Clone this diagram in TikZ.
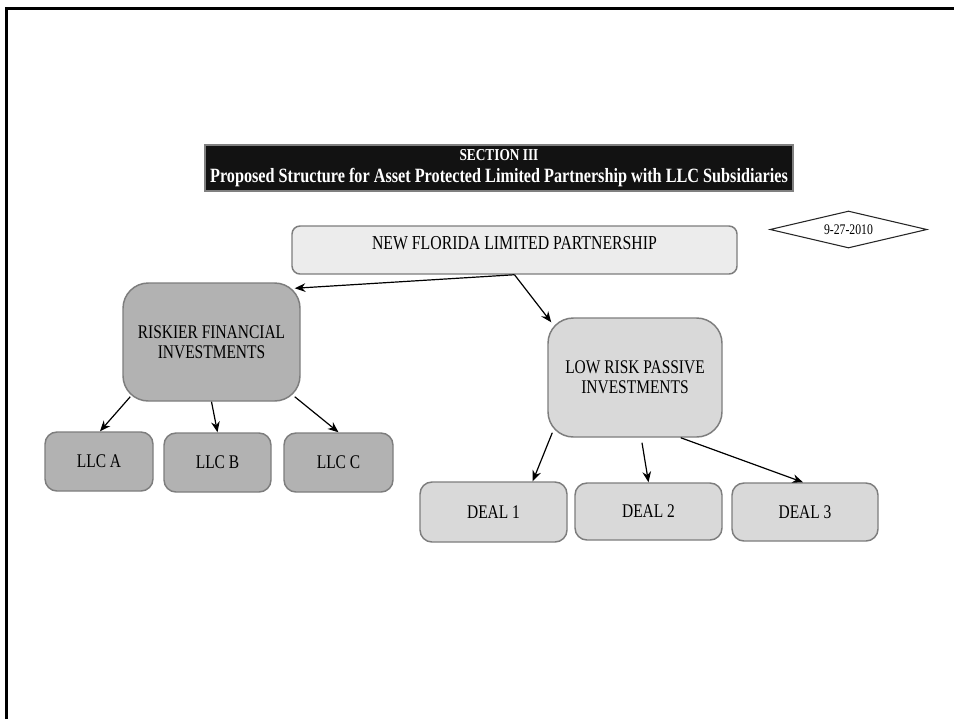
\documentclass[tikz,border=0pt]{standalone}
\usepackage{fontspec}
\setmainfont[FakeStretch=0.8]{Liberation Serif}
\usetikzlibrary{shapes.geometric,arrows.meta,calc}
\definecolor{riskGray}{RGB}{178,178,178}
\definecolor{passiveGray}{RGB}{217,217,217}
\definecolor{paleGray}{RGB}{236,236,236}
\definecolor{rimGray}{RGB}{125,125,125}

\begin{document}
\begin{tikzpicture}[x=0.75pt,y=-0.75pt,
  box/.style={rectangle,draw=rimGray,line width=1.1pt,inner sep=0pt,align=center,
              font=\fontsize{14.5}{15}\selectfont},
  risky/.style={box,fill=riskGray},
  passive/.style={box,fill=passiveGray},
  msg/.style={-{Stealth[length=8pt,width=6.5pt]},line width=0.9pt}
]
  \useasboundingbox (0,0) rectangle (954,719);
  % page corner
  \draw[line width=2.25pt] (6,719) -- (6,8.5) -- (954,8.5);

  % ── title ──
  \node[rectangle,fill=black!93,draw=gray,line width=0.8pt,text=white,align=center,
        minimum width=441pt,minimum height=34.5pt,inner sep=0pt,
        font=\fontsize{15.2}{17}\selectfont\bfseries](Title) at (499,168)
      {{\fontsize{12.5}{13}\selectfont SECTION III}\\
       Proposed Structure for Asset Protected Limited Partnership with LLC Subsidiaries};

  \node[diamond,aspect=4.24,draw=black!85,line width=0.8pt,fill=white,inner sep=0pt,
        minimum width=117.75pt,minimum height=27.75pt,font=\fontsize{11}{12}\selectfont]
      (Date) at (848.5,229.5) {9-27-2010};

  % ── partnership ──
  \node[box,fill=paleGray,rounded corners=6pt,minimum width=333.75pt,minimum height=36pt,
        font=\fontsize{14.8}{15}\selectfont,text height=10pt,text depth=11pt](NFLP) at (514.5,250)
      {NEW FLORIDA LIMITED PARTNERSHIP};

  \node[risky,rounded corners=19pt,minimum width=132.75pt,minimum height=88.5pt]
      (Riskier) at (211.5,342) {RISKIER FINANCIAL\\INVESTMENTS};
  \node[passive,rounded corners=19pt,minimum width=130.5pt,minimum height=89.25pt]
      (LowRisk) at (635,377.5) {LOW RISK PASSIVE\\INVESTMENTS};

  % ── subsidiaries ──
  \node[risky,rounded corners=9pt,minimum width=81pt,minimum height=44.25pt]
      (LLCA) at (99,461.5) {LLC A};
  \node[risky,rounded corners=9pt,minimum width=80.25pt,minimum height=44.25pt]
      (LLCB) at (217.5,462.5) {LLC B};
  \node[risky,rounded corners=9pt,minimum width=81.75pt,minimum height=44.25pt]
      (LLCC) at (338.5,462.5) {LLC C};

  \node[passive,rounded corners=9pt,minimum width=110.25pt,minimum height=45pt]
      (Deal1) at (493.5,512) {DEAL 1};
  \node[passive,rounded corners=9pt,minimum width=110.25pt,minimum height=42.75pt]
      (Deal2) at (648.5,511.5) {DEAL 2};
  \node[passive,rounded corners=9pt,minimum width=109.5pt,minimum height=43.5pt]
      (Deal3) at (805,512) {DEAL 3};

  % ── links ──
  \draw[msg](NFLP.south)--($(Riskier.north east)+(-6,6)$);
  \draw[msg](NFLP.south)--($(LowRisk.north west)+(4,5)$);

  \draw[msg]($(Riskier.south west)+(8,-5)$)--($(LLCA.north)+(1,0)$);
  \draw[msg](Riskier.south)--(LLCB.north);
  \draw[msg]($(Riskier.south east)+(-6,-5)$)--(LLCC.north);

  \draw[msg]($(LowRisk.south west)+(5,-5)$)--($(Deal1.north east)+(-35,0)$);
  \draw[msg]($(LowRisk.south)+(7,5)$)--(Deal2.north);
  \draw[msg]($(LowRisk.south east)+(-42,0)$)--($(Deal3.north)+(-2,0)$);
\end{tikzpicture}
\end{document}
